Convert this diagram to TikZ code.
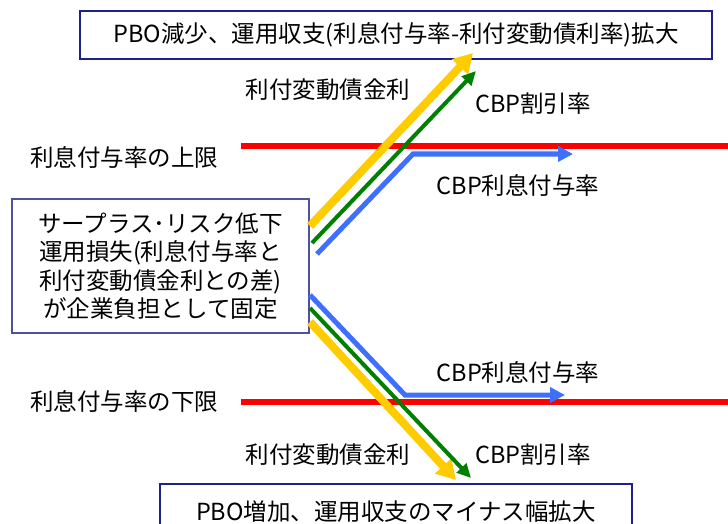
\documentclass[tikz,border=0pt]{standalone}
\usepackage{fontspec}
\setmainfont{Noto Sans CJK JP}
\usetikzlibrary{arrows.meta}
\definecolor{redline}{HTML}{FF0000}
\definecolor{yel}{HTML}{FFCC00}
\definecolor{grn}{HTML}{008000}
\definecolor{blu}{HTML}{3F6FFF}
\definecolor{navy}{HTML}{20208A}
\definecolor{navyl}{HTML}{5050A0}
\tikzset{
  lbl/.style={inner sep=0pt, font=\fontsize{23.5}{28.5}\selectfont},
  boxn/.style={draw=navy, line width=2pt, fill=white, inner sep=0pt, font=\fontsize{23.5}{28.5}\selectfont},
  limit/.style={draw=redline, line width=6pt},
  yarr/.style={draw=yel, line width=8pt, -{Triangle[length=19pt,width=21pt]}},
  garr/.style={draw=grn, line width=4pt, -{Triangle[length=14pt,width=13pt]}},
  barr/.style={draw=blu, line width=5pt, -{Triangle[length=15pt,width=15pt]}},
}
\begin{document}
\begin{tikzpicture}[x=1pt,y=-1pt]
\useasboundingbox (0,0) rectangle (728,524);
\clip (0,0) rectangle (728,524);
\fill[white] (0,0) rectangle (728,524);

% limit lines
\coordinate (uL) at (241,146); \coordinate (uR) at (740,146);
\coordinate (lL) at (241,402); \coordinate (lR) at (740,402);
\draw[limit] (uL) -- (uR);
\draw[limit] (lL) -- (lR);

% boxes
\node[boxn, minimum width=632pt, minimum height=48pt] (top) at (396,35)
  {PBO減少、運用収支(利息付与率-利付変動債利率)拡大};
\node[boxn, draw=navyl, line width=1.5pt, minimum width=297pt, minimum height=134pt, align=center] (src) at (160.5,266)
  {サープラス･リスク低下\\運用損失(利息付与率と\\利付変動債金利との差)\\が企業負担として固定};
\node[boxn, minimum width=472pt, minimum height=56pt] (bot) at (396,512)
  {PBO増加、運用収支のマイナス幅拡大};

% labels
\node[lbl] (lblU) at (124,157) {利息付与率の上限};
\node[lbl] (lblD) at (124,401) {利息付与率の下限};
\node[lbl] (yU) at (328,90) {利付変動債金利};
\node[lbl] (gU) at (533,104) {CBP割引率};
\node[lbl] (bU) at (518,185) {CBP利息付与率};
\node[lbl] (bD) at (518,372) {CBP利息付与率};
\node[lbl] (yD) at (328,455) {利付変動債金利};
\node[lbl] (gD) at (533,455) {CBP割引率};

% upper arrows
\coordinate (ys1) at (310,226); \coordinate (ye1) at (473,53);
\coordinate (gs1) at (312,243); \coordinate (ge1) at (476,71);
\coordinate (bs1) at (317,254); \coordinate (bm1) at (413,154); \coordinate (be1) at (573,154);
\draw[yarr] (ys1) -- (ye1);
\draw[garr] (gs1) -- (ge1);
\draw[barr] (bs1) -- (bm1) -- (be1);

% lower arrows
\coordinate (ys2) at (310,322); \coordinate (ye2) at (456,480);
\coordinate (gs2) at (310,308); \coordinate (ge2) at (471,478);
\coordinate (bs2) at (310,295); \coordinate (bm2) at (405,395); \coordinate (be2) at (565,395);
\draw[barr] (bs2) -- (bm2) -- (be2);
\draw[yarr] (ys2) -- (ye2);
\draw[garr] (gs2) -- (ge2);
\end{tikzpicture}
\end{document}
